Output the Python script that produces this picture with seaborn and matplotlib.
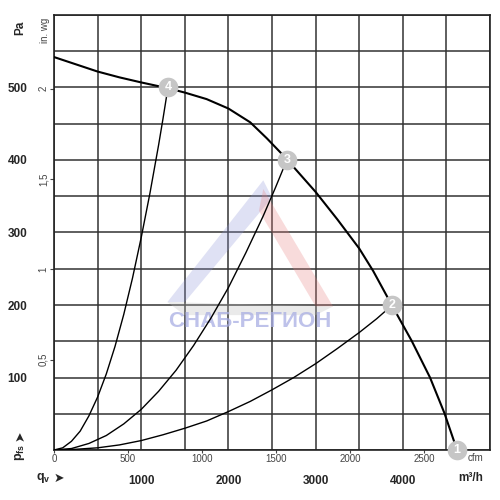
import numpy as np
import pandas as pd
import seaborn as sns
import matplotlib.pyplot as plt

# ----------------------------
# data
# ----------------------------
fan_q = [0, 250, 500, 750, 1000, 1307, 1500, 1750, 2000, 2250, 2440, 2600, 2670, 2750,
         3000, 3250, 3500, 3660, 3873, 4100, 4312, 4477, 4622]
fan_p = [542, 532, 522, 514, 507, 499, 493, 484, 471, 452, 430, 410, 401, 390,
         356, 318, 278, 247, 200, 151, 100, 51, 0]

sys4_q = [0, 100, 200, 300, 400, 500, 600, 700, 800, 900, 1000, 1100, 1200, 1250, 1307]
sys4_p = [0, 3, 12, 26, 47, 73, 105, 143, 187, 237, 293, 354, 421, 457, 500]

sys3_q = [0, 200, 400, 600, 800, 1000, 1200, 1400, 1600, 1800, 2000, 2200, 2400, 2540, 2670]
sys3_p = [0, 2, 9, 20, 36, 56, 81, 110, 144, 182, 224, 272, 323, 362, 400]

sys2_q = [0, 250, 500, 750, 1000, 1250, 1500, 1750, 2000, 2250, 2500, 2750, 3000, 3250, 3500, 3700, 3880]
sys2_p = [0, 1, 3, 7, 13, 21, 30, 40, 53, 67, 83, 100, 119, 140, 162, 181, 200]

points = ["1", "2", "3", "4"]
point_q = [4622, 3880, 2670, 1307]
point_p = [0, 200, 400, 500]

pa_ticks = [0, 100, 200, 300, 400, 500, 600]
pa_labels = ["", "100", "200", "300", "400", "500", ""]
m3h_ticks = [0, 1000, 2000, 3000, 4000, 5000]
m3h_labels = ["", "1000", "2000", "3000", "4000", ""]
cfm_ticks = [0, 500, 1000, 1500, 2000, 2500]
inwg_ticks = [0.5, 1, 1.5, 2]
inwg_labels = ["0,5", "1", "1,5", "2"]

# ----------------------------
# figure
# ----------------------------
sns.set_style("white")
plt.rcParams["font.family"] = ["Liberation Sans", "DejaVu Sans"]

fig = plt.figure(figsize=(5, 5), dpi=100)
ax = fig.add_axes([0.108, 0.1, 0.872, 0.87])

# watermark logo
wm = dict(transform=ax.transAxes, zorder=1, lw=0)
ax.fill([0.26, 0.48, 0.50, 0.30], [0.34, 0.62, 0.58, 0.34], color="#8f95d8", alpha=0.28, **wm)
ax.fill([0.48, 0.64, 0.60, 0.47], [0.60, 0.33, 0.33, 0.55], color="#e88080", alpha=0.28, **wm)
ax.fill([0.26, 0.64, 0.60, 0.30], [0.34, 0.33, 0.31, 0.31], color="#bbbbbb", alpha=0.3, **wm)
ax.text(0.45, 0.295, "СНАБ-РЕГИОН", transform=ax.transAxes, ha="center", va="center",
        fontsize=16, fontweight="bold", color="#a9aee3", alpha=0.75, zorder=1)

sns.lineplot(x=fan_q, y=fan_p, color="black", lw=1.5, ax=ax, zorder=3)
for q, p in [(sys4_q, sys4_p), (sys3_q, sys3_p), (sys2_q, sys2_p)]:
    sns.lineplot(x=q, y=p, color="black", lw=1.0, ax=ax, zorder=3)

ax.scatter(point_q, point_p, s=200, color="#c6c6c6", zorder=5, clip_on=False, linewidths=0)
for name, q, p in zip(points, point_q, point_p):
    ax.text(q, p, name, ha="center", va="center", color="white", fontsize=9,
            fontweight="bold", zorder=6, clip_on=False)

ax.set_xlim(0, 5000)
ax.set_ylim(0, 600)

ax.set_xticks(m3h_ticks)
ax.set_xticklabels(m3h_labels, fontweight="bold", fontsize=8.5)
ax.set_xticks(np.arange(0, 5001, 500), minor=True)
ax.set_yticks(pa_ticks)
ax.set_yticklabels(pa_labels, fontweight="bold", fontsize=8.5)
ax.set_yticks(np.arange(0, 601, 50), minor=True)
ax.tick_params(axis="x", which="both", length=0, pad=18)
ax.tick_params(axis="y", which="both", length=0, pad=19)
ax.grid(which="both", color="#333333", lw=1.1)
ax.set_axisbelow(True)
for s in ax.spines.values():
    s.set_color("#222222")
    s.set_linewidth(1.2)

# secondary scales
cfm = ax.secondary_xaxis("bottom", functions=(lambda m: m / 1.699, lambda c: c * 1.699))
cfm.set_xticks(cfm_ticks)
cfm.tick_params(labelsize=7, colors="#444444", length=2, pad=1)
cfm.spines["bottom"].set_visible(False)

inwg = ax.secondary_yaxis("left", functions=(lambda p: p / 249.1, lambda i: i * 249.1))
inwg.set_yticks(inwg_ticks)
inwg.set_yticklabels(inwg_labels, rotation=90, va="center")
inwg.tick_params(labelsize=7, colors="#444444", length=3, pad=1)
inwg.spines["left"].set_visible(False)

# axis captions
fig.text(0.04, 0.945, "Pa", rotation=90, fontsize=8.5, fontweight="bold", ha="center", va="center")
fig.text(0.09, 0.94, "in. wg", rotation=90, fontsize=7, color="#444444", ha="center", va="center")
fig.text(0.04, 0.095, "p$_\\mathregular{fs}$", rotation=90, fontsize=9, fontweight="bold",
         ha="center", va="center")
fig.text(0.04, 0.128, "➤", rotation=90, fontsize=9, ha="center", va="center", family="DejaVu Sans")
fig.text(0.087, 0.044, "q$_\\mathregular{v}$", fontsize=9, fontweight="bold", ha="center", va="center")
fig.text(0.118, 0.044, "➤", fontsize=9, ha="center", va="center", family="DejaVu Sans")
fig.text(0.952, 0.084, "cfm", fontsize=7, color="#444444", ha="center", va="center")
fig.text(0.942, 0.044, "m³/h", fontsize=8.5, fontweight="bold", ha="center", va="center")

plt.savefig("out.png", dpi=100)
